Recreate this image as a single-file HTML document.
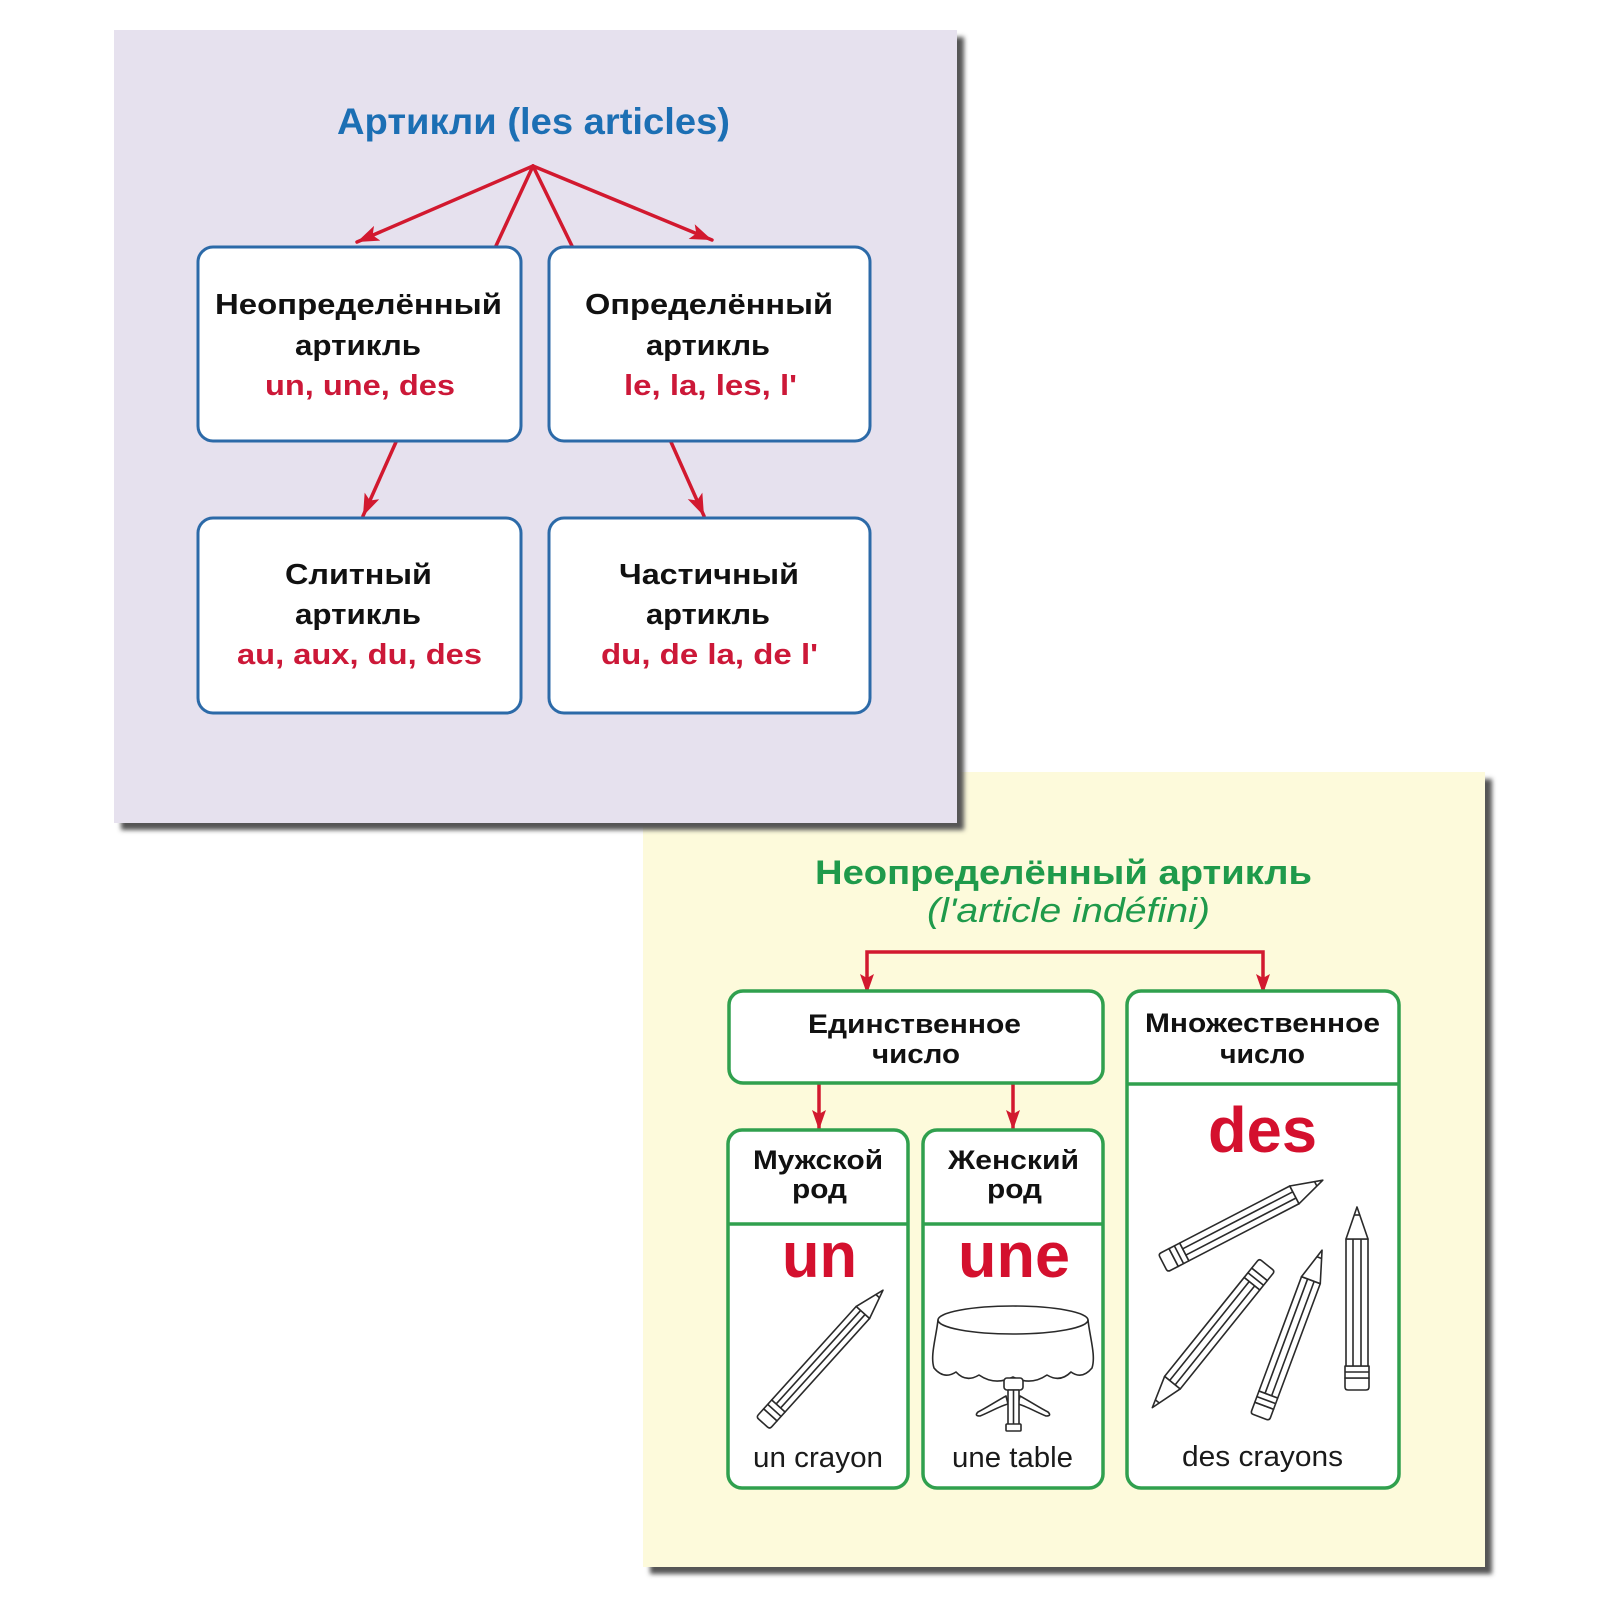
<!DOCTYPE html>
<html>
<head>
<meta charset="utf-8">
<style>
html,body{margin:0;padding:0;background:#fff;}
svg{display:block;}
text{font-family:"Liberation Sans","DejaVu Sans",sans-serif;}
</style>
</head>
<body>
<svg width="1600" height="1600" viewBox="0 0 1600 1600" xmlns="http://www.w3.org/2000/svg">
<defs>
<filter id="blur" x="-5%" y="-5%" width="110%" height="110%"><feGaussianBlur stdDeviation="2.5"/></filter>
<marker id="ah" markerUnits="userSpaceOnUse" markerWidth="24" markerHeight="18" refX="22" refY="8" orient="auto">
<path d="M0,0 L22,8 L0,16 L5,8 Z" fill="#d2192f"/>
</marker>
<marker id="ah2" markerUnits="userSpaceOnUse" markerWidth="22" markerHeight="16" refX="20" refY="7" orient="auto">
<path d="M0,0 L20,7 L0,14 L4,7 Z" fill="#d2192f"/>
</marker>
</defs>

<rect width="1600" height="1600" fill="#fff"/>

<!-- Yellow panel -->
<rect x="650" y="779" width="842" height="795" fill="#555" filter="url(#blur)"/>
<rect x="643" y="772" width="842" height="795" fill="#fdfadb"/>

<!-- Purple panel -->
<rect x="121" y="37" width="843" height="793" fill="#555" filter="url(#blur)"/>
<rect x="114" y="30" width="843" height="793" fill="#e6e1ee"/>

<!-- Title -->
<text x="337" y="134" font-size="37" font-weight="bold" fill="#1c6fb4" textLength="393" lengthAdjust="spacingAndGlyphs">Артикли (les articles)</text>

<!-- Top connectors -->
<g stroke="#d2192f" stroke-width="3.5" fill="none" stroke-linecap="round">
<line x1="533" y1="166" x2="357" y2="242" marker-end="url(#ah)"/>
<line x1="533" y1="166" x2="712" y2="240" marker-end="url(#ah)"/>
<line x1="533" y1="166" x2="495" y2="248"/>
<line x1="533" y1="166" x2="573" y2="248"/>
<line x1="396" y1="442" x2="363" y2="516" marker-end="url(#ah)"/>
<line x1="671" y1="442" x2="704" y2="516" marker-end="url(#ah)"/>
</g>

<!-- Top boxes -->
<g fill="#fff" stroke="#2c6aa8" stroke-width="3">
<rect x="198" y="247" width="323" height="194" rx="15"/>
<rect x="549" y="247" width="321" height="194" rx="15"/>
<rect x="198" y="518" width="323" height="195" rx="15"/>
<rect x="549" y="518" width="321" height="195" rx="15"/>
</g>

<g font-size="29" font-weight="bold" fill="#111">
<text x="215" y="314" textLength="287" lengthAdjust="spacingAndGlyphs">Неопределённый</text>
<text x="295" y="355" textLength="126" lengthAdjust="spacingAndGlyphs">артикль</text>
<text x="585" y="314" textLength="248" lengthAdjust="spacingAndGlyphs">Определённый</text>
<text x="646" y="355" textLength="124" lengthAdjust="spacingAndGlyphs">артикль</text>
<text x="285" y="584" textLength="147" lengthAdjust="spacingAndGlyphs">Слитный</text>
<text x="295" y="624" textLength="126" lengthAdjust="spacingAndGlyphs">артикль</text>
<text x="619" y="584" textLength="180" lengthAdjust="spacingAndGlyphs">Частичный</text>
<text x="646" y="624" textLength="124" lengthAdjust="spacingAndGlyphs">артикль</text>
</g>
<g font-size="29" font-weight="bold" fill="#cc1838">
<text x="265" y="395" textLength="190" lengthAdjust="spacingAndGlyphs">un, une, des</text>
<text x="624" y="395" textLength="173" lengthAdjust="spacingAndGlyphs">le, la, les, l'</text>
<text x="237" y="664" textLength="245" lengthAdjust="spacingAndGlyphs">au, aux, du, des</text>
<text x="601" y="664" textLength="217" lengthAdjust="spacingAndGlyphs">du, de la, de l'</text>
</g>

<!-- Yellow panel titles -->
<text x="815" y="884" font-size="34" font-weight="bold" fill="#1f9a4b" textLength="497" lengthAdjust="spacingAndGlyphs">Неопределённый артикль</text>
<text x="927" y="922" font-size="34" font-style="italic" fill="#1f9a4b" textLength="283" lengthAdjust="spacingAndGlyphs">(l'article indéfini)</text>

<!-- Yellow connectors -->
<g stroke="#d2192f" stroke-width="3.5" fill="none">
<path d="M1065,952 H867 V994" marker-end="url(#ah2)"/>
<path d="M1065,952 H1263 V994" marker-end="url(#ah2)"/>
<path d="M819,1084 V1130" marker-end="url(#ah2)"/>
<path d="M1013,1084 V1130" marker-end="url(#ah2)"/>
</g>

<!-- Green boxes -->
<g fill="#fff" stroke="#30a04e" stroke-width="3.5">
<rect x="729" y="991" width="374" height="92" rx="14"/>
<rect x="1127" y="991" width="272" height="497" rx="14"/>
<rect x="728" y="1130" width="180" height="358" rx="14"/>
<rect x="923" y="1130" width="180" height="358" rx="14"/>
</g>
<g stroke="#30a04e" stroke-width="3.5">
<line x1="1127" y1="1084" x2="1399" y2="1084"/>
<line x1="728" y1="1224" x2="908" y2="1224"/>
<line x1="923" y1="1224" x2="1103" y2="1224"/>
</g>

<g font-size="27" font-weight="bold" fill="#111">
<text x="808" y="1033" textLength="213" lengthAdjust="spacingAndGlyphs">Единственное</text>
<text x="872" y="1063" textLength="88" lengthAdjust="spacingAndGlyphs">число</text>
<text x="1145" y="1032" textLength="235" lengthAdjust="spacingAndGlyphs">Множественное</text>
<text x="1220" y="1063" textLength="85" lengthAdjust="spacingAndGlyphs">число</text>
<text x="753" y="1169" textLength="130" lengthAdjust="spacingAndGlyphs">Мужской</text>
<text x="792" y="1198" textLength="55" lengthAdjust="spacingAndGlyphs">род</text>
<text x="948" y="1169" textLength="131" lengthAdjust="spacingAndGlyphs">Женский</text>
<text x="987" y="1198" textLength="55" lengthAdjust="spacingAndGlyphs">род</text>
</g>

<g font-size="64" font-weight="bold" fill="#d4102e">
<text x="782" y="1277" textLength="75" lengthAdjust="spacingAndGlyphs">un</text>
<text x="958" y="1277" textLength="112" lengthAdjust="spacingAndGlyphs">une</text>
<text x="1208" y="1152" textLength="109" lengthAdjust="spacingAndGlyphs">des</text>
</g>

<g font-size="29" fill="#1a1a1a">
<text x="753" y="1467" textLength="130" lengthAdjust="spacingAndGlyphs">un crayon</text>
<text x="952" y="1467" textLength="121" lengthAdjust="spacingAndGlyphs">une table</text>
<text x="1182" y="1466" textLength="161" lengthAdjust="spacingAndGlyphs">des crayons</text>
</g>

<!-- Pencils -->
<g fill="#fff" stroke="#2a2a2a" stroke-width="1.6" stroke-linejoin="round">
<g transform="translate(763,1423) rotate(-47.9)">
<path d="M11,-9 H3 Q0,-9 0,-6 V6 Q0,9 3,9 H11 Z"/>
<rect x="11" y="-9" width="12" height="18"/>
<line x1="17" y1="-9" x2="17" y2="9"/>
<rect x="23" y="-9" width="126" height="18"/>
<line x1="23" y1="-3" x2="149" y2="-3"/>
<line x1="23" y1="3" x2="149" y2="3"/>
<path d="M149,-9 L179,0 L149,9 Z"/>
<line x1="171" y1="-2.4" x2="171" y2="2.4"/>
</g>
<g transform="translate(1163,1263) rotate(-27.4)">
<path d="M12,-10 H3 Q0,-10 0,-7 V7 Q0,10 3,10 H12 Z"/>
<rect x="12" y="-10" width="12" height="20"/>
<line x1="18" y1="-10" x2="18" y2="10"/>
<rect x="24" y="-10" width="124" height="20"/>
<line x1="24" y1="-3.5" x2="148" y2="-3.5"/>
<line x1="24" y1="3.5" x2="148" y2="3.5"/>
<path d="M148,-10 L180,0 L148,10 Z"/>
<line x1="172" y1="-2.5" x2="172" y2="2.5"/>
</g>
<g transform="translate(1267,1265) rotate(128.8)">
<path d="M12,-10 H3 Q0,-10 0,-7 V7 Q0,10 3,10 H12 Z"/>
<rect x="12" y="-10" width="12" height="20"/>
<line x1="18" y1="-10" x2="18" y2="10"/>
<rect x="24" y="-10" width="127" height="20"/>
<line x1="24" y1="-3.5" x2="151" y2="-3.5"/>
<line x1="24" y1="3.5" x2="151" y2="3.5"/>
<path d="M151,-10 L183,0 L151,10 Z"/>
<line x1="175" y1="-2.5" x2="175" y2="2.5"/>
</g>
<g transform="translate(1260,1417) rotate(-69.6)">
<path d="M12,-10 H3 Q0,-10 0,-7 V7 Q0,10 3,10 H12 Z"/>
<rect x="12" y="-10" width="12" height="20"/>
<line x1="18" y1="-10" x2="18" y2="10"/>
<rect x="24" y="-10" width="122" height="20"/>
<line x1="24" y1="-3.5" x2="146" y2="-3.5"/>
<line x1="24" y1="3.5" x2="146" y2="3.5"/>
<path d="M146,-10 L178,0 L146,10 Z"/>
<line x1="170" y1="-2.5" x2="170" y2="2.5"/>
</g>
<g transform="translate(1357,1390) rotate(-90)">
<path d="M12,-12 H3 Q0,-12 0,-9 V9 Q0,12 3,12 H12 Z"/>
<rect x="12" y="-12" width="12" height="24"/>
<line x1="18" y1="-12" x2="18" y2="12"/>
<rect x="24" y="-11" width="127" height="22"/>
<line x1="24" y1="-4" x2="151" y2="-4"/>
<line x1="24" y1="4" x2="151" y2="4"/>
<path d="M151,-11 L183,0 L151,11 Z"/>
<line x1="175" y1="-2.7" x2="175" y2="2.7"/>
</g>
</g>

<!-- Table -->
<g fill="#fff" stroke="#2a2a2a" stroke-width="1.6" stroke-linejoin="round">
<path d="M938,1320 C936,1338 930,1356 934,1368 Q944,1380 956,1372 Q966,1383 979,1375 Q995,1386 1013,1377 Q1031,1386 1047,1375 Q1060,1383 1071,1372 Q1082,1380 1092,1368 C1096,1356 1090,1338 1088,1320 Z"/>
<ellipse cx="1013" cy="1320" rx="75" ry="14"/>
<rect x="1004" y="1378" width="19" height="12" rx="3"/>
<path d="M1006,1396 C995,1402 986,1408 978,1412 Q974,1416 980,1416 C990,1412 1000,1406 1008,1404 Z"/>
<path d="M1020,1396 C1031,1402 1040,1408 1048,1412 Q1052,1416 1046,1416 C1036,1412 1026,1406 1018,1404 Z"/>
<rect x="1008" y="1390" width="11" height="36"/>
<line x1="1013.5" y1="1390" x2="1013.5" y2="1426"/>
<rect x="1006" y="1424" width="15" height="7" rx="1"/>
</g>
</svg>
</body>
</html>
